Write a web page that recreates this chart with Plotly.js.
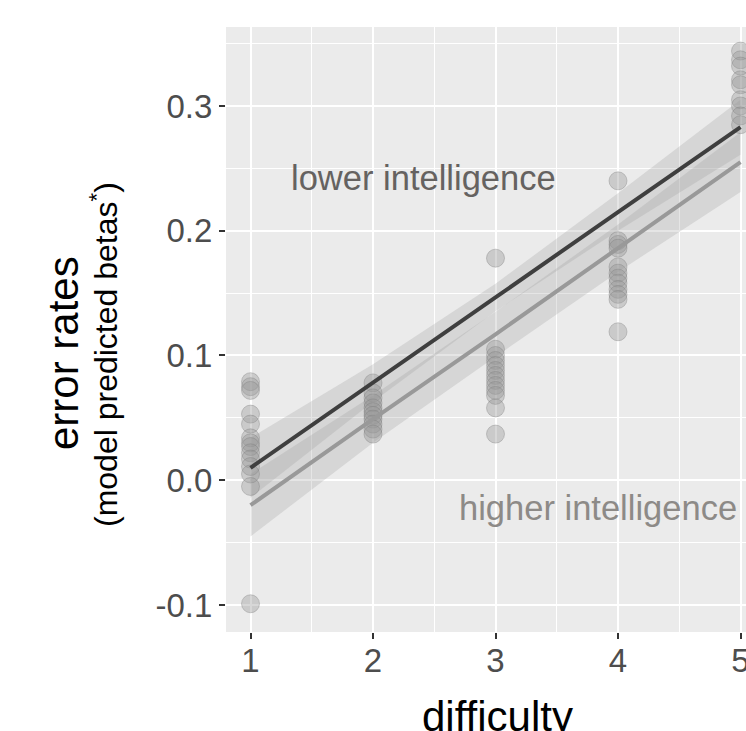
<!DOCTYPE html>
<html>
<head>
<meta charset="utf-8">
<script src="https://cdn.plot.ly/plotly-3.0.1.min.js"></script>
<style>
html,body{margin:0;padding:0;overflow:hidden;background:#fff;}
#chart{width:780px;height:760px;}
</style>
</head>
<body>
<div id="chart"></div>
<script>
// ---- data ----
const difficulty = [1, 2, 3, 4, 5];
const errD1 = [0.079, 0.075, 0.072, 0.053, 0.045, 0.034, 0.030, 0.027, 0.022, 0.017, 0.011, 0.005, -0.005, -0.099];
const errD2 = [0.078, 0.070, 0.066, 0.062, 0.058, 0.055, 0.052, 0.049, 0.045, 0.041, 0.037];
const errD3 = [0.178, 0.105, 0.100, 0.096, 0.092, 0.088, 0.084, 0.080, 0.076, 0.072, 0.068, 0.058, 0.037];
const errD4 = [0.240, 0.192, 0.189, 0.186, 0.171, 0.166, 0.162, 0.158, 0.153, 0.149, 0.145, 0.119];
const errD5 = [0.344, 0.337, 0.332, 0.321, 0.317, 0.305, 0.300, 0.292, 0.285];

const fitLower = [0.010, 0.078, 0.1465, 0.215, 0.283];
const ciLowerLo = [-0.014, 0.063, 0.1355, 0.200, 0.261];
const ciLowerHi = [0.034, 0.093, 0.1575, 0.230, 0.305];

const fitHigher = [-0.020, 0.049, 0.117, 0.186, 0.255];
const ciHigherLo = [-0.045, 0.030, 0.099, 0.167, 0.231];
const ciHigherHi = [0.005, 0.068, 0.135, 0.205, 0.279];

const labelLower = "lower intelligence";
const labelHigher = "higher intelligence";
const xTickLabels = ['1', '2', '3', '4', '5'];
const yTickVals = [-0.1, 0.0, 0.1, 0.2, 0.3];
const yTickLabels = ['-0.1', '0.0', '0.1', '0.2', '0.3'];

// ---- build traces ----
const allErr = [errD1, errD2, errD3, errD4, errD5];
const px = [], py = [];
allErr.forEach((arr, i) => arr.forEach(v => { px.push(difficulty[i]); py.push(v); }));

const bandFill = 'rgba(150,150,150,0.25)';
function band(lo, hi) {
  return [
    {x: difficulty, y: lo, mode: 'lines', line: {width: 0, color: 'rgba(0,0,0,0)'}, showlegend: false, hoverinfo: 'skip'},
    {x: difficulty, y: hi, mode: 'lines', fill: 'tonexty', fillcolor: bandFill, line: {width: 0, color: 'rgba(0,0,0,0)'}, showlegend: false, hoverinfo: 'skip'}
  ];
}

const traces = [
  ...band(ciHigherLo, ciHigherHi),
  ...band(ciLowerLo, ciLowerHi),
  {x: px, y: py, mode: 'markers', type: 'scatter',
   marker: {size: 18, color: 'rgba(150,150,150,0.38)', line: {color: 'rgba(120,120,120,0.35)', width: 1}},
   showlegend: false},
  {x: difficulty, y: fitHigher, mode: 'lines', line: {color: '#999999', width: 4}, showlegend: false},
  {x: difficulty, y: fitLower, mode: 'lines', line: {color: '#3f3f3f', width: 4}, showlegend: false}
];

const W = 780, H = 760;
const L = 226, T = 27, R = W - 765, B = H - 632;
const pw = W - L - R, ph = H - T - B;
function xp(p) { return (p - L) / pw; }
function yp(p) { return (T + ph - p) / ph; }

const font = 'Liberation Sans, Arial, Helvetica, sans-serif';

const layout = {
  width: W, height: H,
  margin: {l: L, r: R, t: T, b: B, pad: 0},
  paper_bgcolor: '#ffffff',
  plot_bgcolor: '#EBEBEB',
  font: {family: font},
  showlegend: false,
  xaxis: {
    range: [0.8, 5.2], tickvals: difficulty, ticktext: xTickLabels,
    showgrid: true, gridcolor: '#ffffff', gridwidth: 2,
    minor: {dtick: 0.5, tick0: 0.5, showgrid: true, gridcolor: '#ffffff', gridwidth: 1},
    zeroline: false, showline: false,
    ticks: 'outside', ticklen: 6, tickwidth: 2, tickcolor: '#333333',
    ticklabelstandoff: -7,
    tickfont: {size: 33, color: '#4D4D4D', family: font}
  },
  yaxis: {
    range: [-0.12164, 0.3633],
    tickvals: yTickVals, ticktext: yTickLabels,
    showgrid: true, gridcolor: '#ffffff', gridwidth: 2,
    minor: {dtick: 0.05, tick0: 0.05, showgrid: true, gridcolor: '#ffffff', gridwidth: 1},
    zeroline: false, showline: false,
    ticks: 'outside', ticklen: 6, tickwidth: 2, tickcolor: '#333333',
    tickfont: {size: 33, color: '#4D4D4D', family: font}
  },
  annotations: [
    {text: 'error rates', xref: 'paper', yref: 'paper', x: xp(64), y: yp(353), textangle: -90,
     showarrow: false, xanchor: 'center', yanchor: 'middle', font: {size: 42, color: '#000', family: font}},
    {text: '(model predicted betas<sup>*</sup>)', xref: 'paper', yref: 'paper', x: xp(104), y: yp(355), textangle: -90,
     showarrow: false, xanchor: 'center', yanchor: 'middle', font: {size: 32, color: '#000', family: font}},
    {text: 'difficulty', xref: 'paper', yref: 'paper', x: xp(497), y: yp(716),
     showarrow: false, xanchor: 'center', yanchor: 'middle', font: {size: 42, color: '#000', family: font}},
    {text: labelLower, xref: 'x', yref: 'y', x: 2.412, y: 0.2421,
     showarrow: false, xanchor: 'center', yanchor: 'middle', font: {size: 34.5, color: '#656260', family: font}},
    {text: labelHigher, xref: 'x', yref: 'y', x: 3.837, y: -0.0224,
     showarrow: false, xanchor: 'center', yanchor: 'middle', font: {size: 34.5, color: '#8d8a87', family: font}}
  ]
};

Plotly.newPlot('chart', traces, layout, {displayModeBar: false, staticPlot: true});
</script>
</body>
</html>
